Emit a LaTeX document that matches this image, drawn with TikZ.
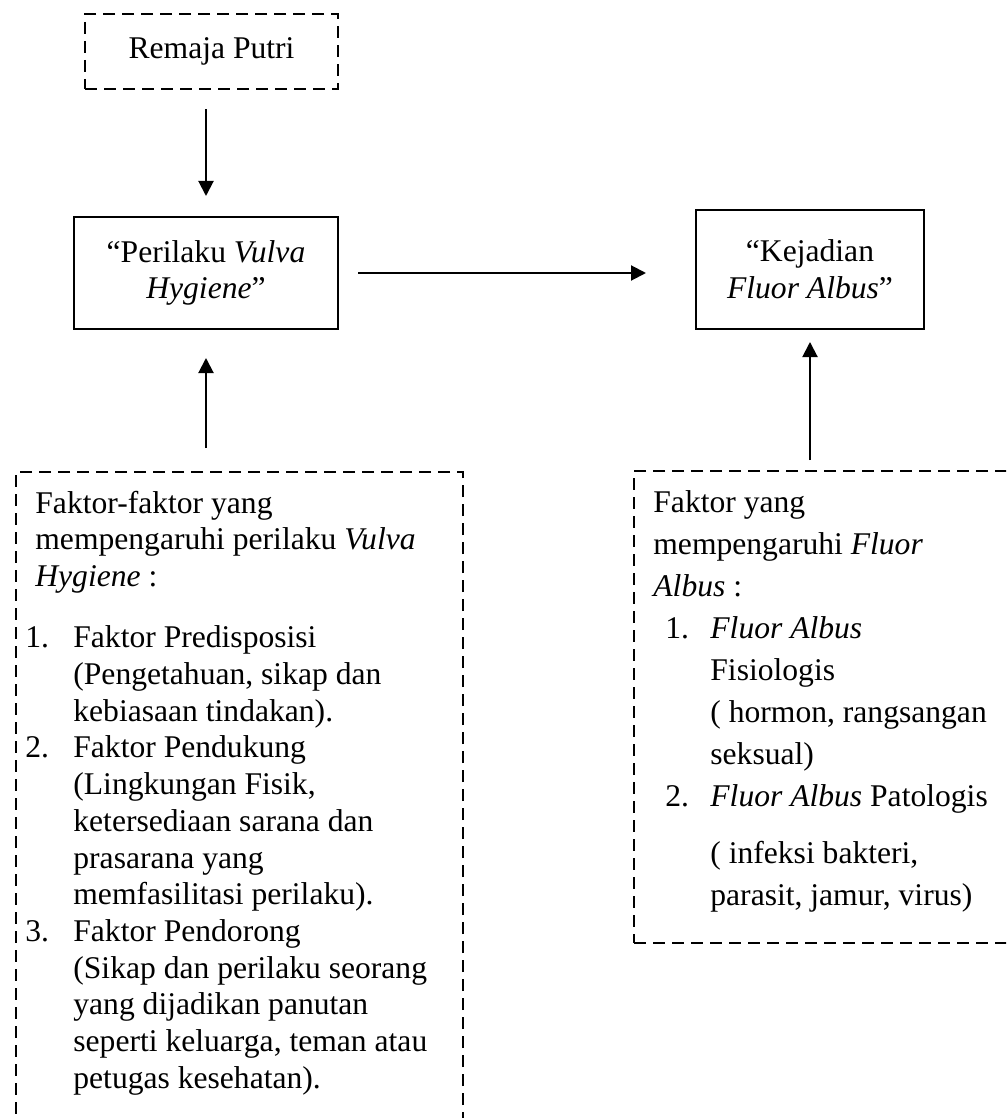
\documentclass[tikz,border=0pt]{standalone}
\usepackage{fontspec}
\setmainfont{Liberation Serif}
\usetikzlibrary{arrows.meta,positioning}
\begin{document}
\begin{tikzpicture}[x=.5pt,y=-.5pt,
box/.style={draw,line width=1pt,inner sep=0pt,align=center,font=\fontsize{15.8pt}{18.35pt}\selectfont},
dbox/.style={draw,line width=1.2pt,dash pattern=on 6pt off 3.5pt,inner sep=0pt},
txt/.style={inner sep=0pt,anchor=north west,align=left},
arr/.style={line width=1pt,-{Triangle[length=7.5pt,width=7.5pt]}}]
\useasboundingbox(0,0)rectangle(1006,1118);
\clip(0,0)rectangle(1006,1118);
\node[box,dbox,minimum width=126.5pt,minimum height=37.5pt](remaja)at(211.5,51.5){Remaja Putri};
\node[box,minimum width=132pt,minimum height=56pt](perilaku)at(206,273){“Perilaku \textit{Vulva}\\\textit{Hygiene}”};
\node[box,minimum width=114pt,minimum height=59.5pt](kejadian)at(810,269.5){“Kejadian\\\textit{Fluor Albus}”};
\node[dbox,minimum width=223.5pt,minimum height=340pt,anchor=north west](faktorvh)at(15,471){};
\node[dbox,minimum width=198.5pt,minimum height=236pt,anchor=north west](faktorfa)at(633,470){};
\node[txt,font=\fontsize{15.8pt}{18.35pt}\selectfont](isivh)at(35,490.5){Faktor-faktor yang\\mempengaruhi perilaku \textit{Vulva}\\\textit{Hygiene} :\\[12.3pt]
\hspace*{-5pt}\makebox[24pt][l]{1.}Faktor Predisposisi\\\hspace*{19pt}(Pengetahuan, sikap dan\\\hspace*{19pt}kebiasaan tindakan).\\
\hspace*{-5pt}\makebox[24pt][l]{2.}Faktor Pendukung\\\hspace*{19pt}(Lingkungan Fisik,\\\hspace*{19pt}ketersediaan sarana dan\\\hspace*{19pt}prasarana yang\\\hspace*{19pt}memfasilitasi perilaku).\\
\hspace*{-5pt}\makebox[24pt][l]{3.}Faktor Pendorong\\\hspace*{19pt}(Sikap dan perilaku seorang\\\hspace*{19pt}yang dijadikan panutan\\\hspace*{19pt}seperti keluarga, teman atau\\\hspace*{19pt}petugas kesehatan).};
\node[txt,font=\fontsize{15.8pt}{21pt}\selectfont](isifa)at(653,490.5){Faktor yang\\mempengaruhi \textit{Fluor}\\\textit{Albus} :\\
\hspace*{6pt}\makebox[22.5pt][l]{1.}\textit{Fluor Albus}\\\hspace*{28.5pt}Fisiologis\\\hspace*{28.5pt}( hormon, rangsangan\\\hspace*{28.5pt}seksual)\\
\hspace*{6pt}\makebox[22.5pt][l]{2.}\textit{Fluor Albus} Patologis\\[7.5pt]\hspace*{28.5pt}( infeksi bakteri,\\\hspace*{28.5pt}parasit, jamur, virus)};
\draw[arr,shorten <=9.5pt,shorten >=10pt](perilaku.north|-remaja.south)--(perilaku.north);
\draw[arr,shorten <=9.5pt,shorten >=24.5pt](perilaku.east)--(perilaku.east-|kejadian.west);
\draw[arr,shorten <=11.5pt,shorten >=14pt](faktorvh.north-|perilaku.south)--(perilaku.south);
\draw[arr,shorten <=5pt,shorten >=6pt](faktorfa.north-|kejadian.south)--(kejadian.south);
\end{tikzpicture}
\end{document}
